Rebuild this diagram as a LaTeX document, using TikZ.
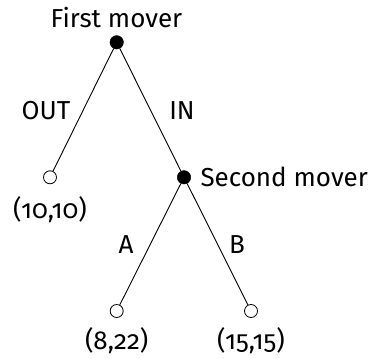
\documentclass[tikz,border=0pt]{standalone}
\usepackage{fontspec}
\setmainfont{Fira Sans}[Numbers=OldStyle]
\begin{document}
\begin{tikzpicture}[x=1pt,y=-1pt,
  every node/.style={font=\fontsize{26}{30}\selectfont},
  dec/.style={circle,fill=black,draw=black,inner sep=0pt,minimum size=13.5pt},
  term/.style={circle,fill=white,draw=black,line width=0.8pt,inner sep=0pt,minimum size=13pt},
  edge/.style={line width=0.9pt}]
\useasboundingbox (0,0) rectangle (374,358);
\node[dec] (r) at (116.7,42.3) {};
\node[term] (o) at (50,177.3) {};
\node[dec] (s) at (184,177.3) {};
\node[term] (a) at (116.7,311) {};
\node[term] (b) at (251,311) {};
\draw[edge] (r) -- (o);
\draw[edge] (r) -- (s);
\draw[edge] (s) -- (a);
\draw[edge] (s) -- (b);
\node (rl) at (116.5,18) {First mover};
\node[anchor=west] (sl) at (197,177) {Second mover};
\node (ol) at (50,210) {(10,10)};
\node (al) at (116.7,341) {(8,22)};
\node (bl) at (251,341) {(15,15)};
\node (outl) at (46,111) {OUT};
\node (inl) at (182,111) {IN};
\node (alab) at (126,245) {A};
\node (blab) at (237,245) {B};
\end{tikzpicture}
\end{document}
